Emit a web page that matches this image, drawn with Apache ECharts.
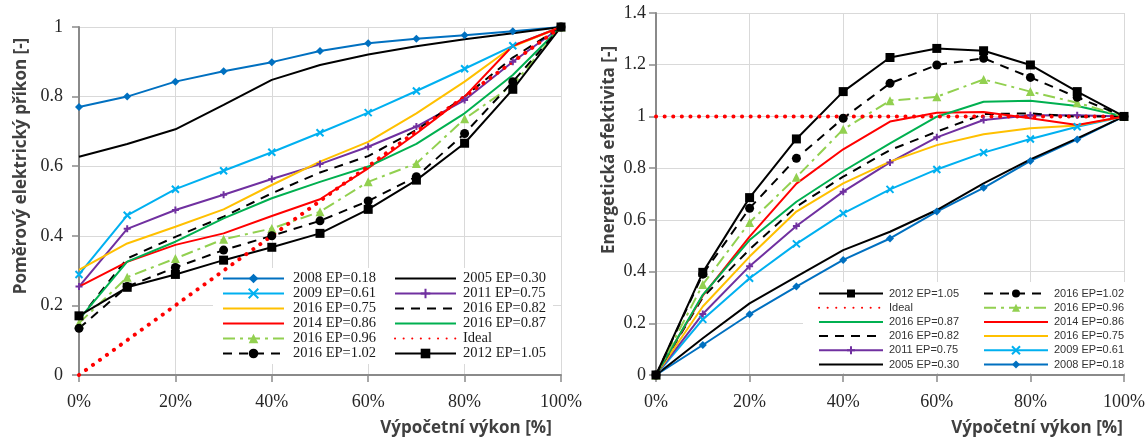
<!DOCTYPE html>
<html>
<head>
<meta charset="utf-8">
<script src="https://cdn.jsdelivr.net/npm/echarts@6/dist/echarts.min.js"></script>
<style>
  html, body { margin: 0; padding: 0; background: #fff; }
  #chart { width: 1148px; height: 438px; }
</style>
</head>
<body>
<div id="chart"></div>
<script>
// Load levels on the x axis (percent of computing capacity)
const loads = [0, 10, 20, 30, 40, 50, 60, 70, 80, 90, 100];

// Relative electrical input power [-] per load level
const power2008 = [0.770, 0.800, 0.843, 0.873, 0.899, 0.931, 0.953, 0.966, 0.976, 0.988, 1];
const power2005 = [0.627, 0.664, 0.706, 0.776, 0.848, 0.891, 0.921, 0.945, 0.965, 0.982, 1];
const power2009 = [0.289, 0.459, 0.534, 0.587, 0.640, 0.696, 0.754, 0.816, 0.880, 0.946, 1];
const power2011 = [0.254, 0.420, 0.474, 0.518, 0.563, 0.606, 0.656, 0.714, 0.790, 0.900, 1];
const power2016a = [0.302, 0.378, 0.426, 0.476, 0.546, 0.613, 0.670, 0.752, 0.843, 0.944, 1]; // EP=0.75
const power2016b = [0.160, 0.335, 0.397, 0.455, 0.522, 0.582, 0.629, 0.704, 0.800, 0.912, 1]; // EP=0.82
const power2014 = [0.254, 0.325, 0.374, 0.407, 0.457, 0.505, 0.594, 0.694, 0.800, 0.946, 1];
const power2016c = [0.160, 0.326, 0.383, 0.450, 0.508, 0.555, 0.599, 0.664, 0.752, 0.862, 1]; // EP=0.87
const power2016d = [0.149, 0.281, 0.335, 0.390, 0.421, 0.469, 0.555, 0.608, 0.736, 0.833, 1]; // EP=0.96
const power2016e = [0.134, 0.254, 0.309, 0.359, 0.400, 0.443, 0.500, 0.570, 0.694, 0.843, 1]; // EP=1.02
const power2012 = [0.170, 0.252, 0.289, 0.330, 0.367, 0.407, 0.476, 0.560, 0.666, 0.821, 1];
const powerIdeal = [0, 0.1, 0.2, 0.3, 0.4, 0.5, 0.6, 0.7, 0.8, 0.9, 1];

// Energy efficiency [-] per load level
const eff2012 = [0, 0.397, 0.686, 0.913, 1.096, 1.228, 1.263, 1.254, 1.199, 1.096, 1];
const eff2016e = [0, 0.390, 0.645, 0.838, 0.993, 1.128, 1.199, 1.225, 1.151, 1.074, 1]; // EP=1.02
const eff2016d = [0, 0.350, 0.590, 0.765, 0.950, 1.061, 1.076, 1.143, 1.096, 1.053, 1]; // EP=0.96
const eff2014 = [0, 0.307, 0.535, 0.740, 0.873, 0.980, 1.014, 1.017, 0.993, 0.967, 1];
const eff2016c = [0, 0.310, 0.522, 0.670, 0.788, 0.896, 0.999, 1.057, 1.061, 1.040, 1]; // EP=0.87
const eff2016b = [0, 0.300, 0.486, 0.651, 0.767, 0.870, 0.941, 1.009, 1.012, 0.999, 1]; // EP=0.82
const eff2016a = [0, 0.265, 0.458, 0.632, 0.741, 0.825, 0.889, 0.931, 0.954, 0.965, 1]; // EP=0.75
const eff2011 = [0, 0.236, 0.421, 0.576, 0.709, 0.822, 0.919, 0.986, 1.005, 1.005, 1];
const eff2009 = [0, 0.215, 0.374, 0.507, 0.625, 0.718, 0.795, 0.860, 0.913, 0.960, 1];
const eff2008 = [0, 0.116, 0.235, 0.342, 0.445, 0.528, 0.632, 0.724, 0.828, 0.911, 1];
const eff2005 = [0, 0.142, 0.277, 0.380, 0.483, 0.554, 0.638, 0.741, 0.834, 0.915, 1];
const effIdeal = [1, 1, 1, 1, 1, 1, 1, 1, 1, 1, 1];

// Series names
const N = {
  s2008: '2008 EP=0.18', s2005: '2005 EP=0.30', s2009: '2009 EP=0.61', s2011: '2011 EP=0.75',
  s2016a: '2016 EP=0.75', s2016b: '2016 EP=0.82', s2014: '2014 EP=0.86', s2016c: '2016 EP=0.87',
  s2016d: '2016 EP=0.96', ideal: 'Ideal', s2016e: '2016 EP=1.02', s2012: '2012 EP=1.05'
};

// Visual style of each server line
const X_MARK = 'path://M0,0L10,10M10,0L0,10';
const PLUS_MARK = 'path://M5,0L5,10M1.5,5L8.5,5';
const styles = {
  [N.s2008]:  { color: '#0070C0', symbol: 'diamond', size: 8 },
  [N.s2005]:  { color: '#000000', symbol: 'none' },
  [N.s2009]:  { color: '#00B0F0', symbol: X_MARK, size: 7, stroke: true },
  [N.s2011]:  { color: '#7030A0', symbol: PLUS_MARK, size: 7, stroke: true },
  [N.s2016a]: { color: '#FFC000', symbol: 'none' },
  [N.s2016b]: { color: '#000000', symbol: 'none', dash: [9, 7] },
  [N.s2014]:  { color: '#FF0000', symbol: 'none' },
  [N.s2016c]: { color: '#00B050', symbol: 'none' },
  [N.s2016d]: { color: '#92D050', symbol: 'triangle', size: 9, dash: [12, 5, 3, 5] },
  [N.ideal]:  { color: '#FF0000', symbol: 'none', dash: [0.1, 8.5], width: 4, cap: 'round' },
  [N.s2016e]: { color: '#000000', symbol: 'circle', size: 9, dash: [9, 7] },
  [N.s2012]:  { color: '#000000', symbol: 'rect', size: 9 }
};

function makeSeries(name, values, axisIndex) {
  const st = styles[name];
  const itemStyle = { color: st.color };
  if (st.stroke) { itemStyle.borderColor = st.color; itemStyle.borderWidth = 2; }
  return {
    name: name,
    type: 'line',
    xAxisIndex: axisIndex,
    yAxisIndex: axisIndex,
    data: loads.map((x, i) => [x, values[i]]),
    symbol: st.symbol,
    symbolSize: st.size || 6,
    showSymbol: st.symbol !== 'none',
    lineStyle: { color: st.color, width: st.width || 2, type: st.dash || 'solid', cap: st.cap || 'butt' },
    itemStyle: itemStyle,
    emphasis: { disabled: true },
    animation: false
  };
}

const leftSeries = [
  [N.s2008, power2008], [N.s2005, power2005], [N.s2009, power2009], [N.s2011, power2011],
  [N.s2016a, power2016a], [N.s2016b, power2016b], [N.s2014, power2014], [N.s2016c, power2016c],
  [N.s2016d, power2016d], [N.s2016e, power2016e], [N.s2012, power2012], [N.ideal, powerIdeal]
].map(([n, v]) => makeSeries(n, v, 0));

const rightSeries = [
  [N.s2008, eff2008], [N.s2005, eff2005], [N.s2009, eff2009], [N.s2011, eff2011],
  [N.s2016a, eff2016a], [N.s2016b, eff2016b], [N.s2014, eff2014], [N.s2016c, eff2016c],
  [N.s2016d, eff2016d], [N.s2016e, eff2016e], [N.s2012, eff2012], [N.ideal, effIdeal]
].map(([n, v]) => makeSeries(n, v, 1));

const AXIS_GRAY = '#8a8a8a';
const TICK_FONT = 'Liberation Serif';

function xAxisOpt(gridIndex) {
  return {
    type: 'value', gridIndex: gridIndex, min: 0, max: 100, interval: 20,
    axisLine: { show: true, onZero: false, lineStyle: { color: AXIS_GRAY, width: 2 } },
    axisTick: { show: true, length: 7, lineStyle: { color: AXIS_GRAY, width: 1.5 } },
    axisLabel: { formatter: '{value}%', fontFamily: TICK_FONT, fontSize: 18, color: '#262626', margin: 18 },
    splitLine: { show: true, lineStyle: { color: '#d9d9d9', width: 1 } }
  };
}
function yAxisOpt(gridIndex, max, margin) {
  return {
    type: 'value', gridIndex: gridIndex, min: 0, max: max, interval: 0.2,
    axisLine: { show: true, lineStyle: { color: AXIS_GRAY, width: 2 } },
    axisTick: { show: true, length: 7, lineStyle: { color: AXIS_GRAY, width: 1.5 } },
    axisLabel: { fontFamily: TICK_FONT, fontSize: 18, color: '#262626', margin: margin },
    splitLine: { show: true, lineStyle: { color: '#d9d9d9', width: 1 } }
  };
}

// Legend entries: lines without markers show only the line sample
function legendItems(names) {
  return names.map(n => styles[n].symbol === 'none'
    ? { name: n, itemStyle: { opacity: 0 } }
    : { name: n });
}

function legendCol(names, left, top, opts, textPad) {
  return {
    orient: 'vertical', left: left, top: top, padding: 0,
    itemWidth: opts.itemWidth, itemHeight: opts.itemHeight, itemGap: opts.itemGap,
    selectedMode: false, data: legendItems(names),
    textStyle: {
      fontFamily: opts.font, fontSize: opts.fontSize, color: opts.textColor,
      lineHeight: opts.itemHeight, padding: [0, 0, 0, textPad]
    }
  };
}

const leftLegendOpts = { itemWidth: 61, itemHeight: 12, itemGap: 0, font: 'Liberation Serif', fontSize: 14.5, textColor: '#1a1a1a' };
const rightLegendOpts = { itemWidth: 64, itemHeight: 10, itemGap: 3.2, font: 'Liberation Sans', fontSize: 11, textColor: '#333333' };

const TITLE_FONT = 'bold 17px "Open Sans"';
const TITLE_COLOR = '#404040';

const option = {
  backgroundColor: '#ffffff',
  animation: false,
  grid: [
    { left: 79, top: 27, width: 482, height: 348 },
    { left: 656, top: 13, width: 477, height: 362 }
  ],
  xAxis: [xAxisOpt(0), xAxisOpt(1)],
  yAxis: [yAxisOpt(0, 1, 16), yAxisOpt(1, 1.4, 10)],
  legend: [
    legendCol([N.s2008, N.s2009, N.s2016a, N.s2014, N.s2016d, N.s2016e], 222, 271, leftLegendOpts, 4),
    legendCol([N.s2005, N.s2011, N.s2016b, N.s2016c, N.ideal, N.s2012], 394, 271, leftLegendOpts, 2),
    legendCol([N.s2012, N.ideal, N.s2016c, N.s2016b, N.s2011, N.s2005], 818, 288, rightLegendOpts, 1),
    legendCol([N.s2016e, N.s2016d, N.s2014, N.s2016a, N.s2009, N.s2008], 983, 288, rightLegendOpts, 1)
  ],
  graphic: [
    // white panels behind the legends
    { type: 'rect', z: 3, shape: { x: 213, y: 268, width: 340, height: 96 }, style: { fill: '#ffffff' } },
    { type: 'rect', z: 3, shape: { x: 803, y: 282, width: 327, height: 91 }, style: { fill: '#ffffff' } },
    // axis titles
    { type: 'text', z: 5, x: 21, y: 166, rotation: Math.PI / 2,
      style: { text: 'Poměrový elektrický příkon [-]', font: TITLE_FONT, fill: TITLE_COLOR, align: 'center', verticalAlign: 'middle' } },
    { type: 'text', z: 5, x: 466, y: 428,
      style: { text: 'Výpočetní výkon [%]', font: TITLE_FONT, fill: TITLE_COLOR, align: 'center', verticalAlign: 'middle' } },
    { type: 'text', z: 5, x: 609, y: 150, rotation: Math.PI / 2,
      style: { text: 'Energetická efektivita [-]', font: TITLE_FONT, fill: TITLE_COLOR, align: 'center', verticalAlign: 'middle' } },
    { type: 'text', z: 5, x: 1037, y: 428,
      style: { text: 'Výpočetní výkon [%]', font: TITLE_FONT, fill: TITLE_COLOR, align: 'center', verticalAlign: 'middle' } }
  ],
  series: leftSeries.concat(rightSeries)
};

const chart = echarts.init(document.getElementById('chart'), null, { renderer: 'canvas' });
chart.setOption(option);
</script>
</body>
</html>
